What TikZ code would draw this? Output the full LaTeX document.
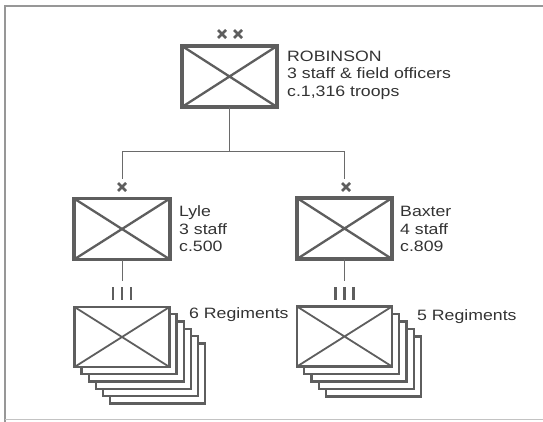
\documentclass[tikz,border=0pt]{standalone}
\usepackage{fontspec}
\setmainfont{Liberation Sans}[FakeStretch=1.18]
\definecolor{boxgray}{HTML}{5E5E5E}
\definecolor{linegray}{HTML}{6A6A6A}
\definecolor{txtgray}{HTML}{333333}
\begin{document}
\begin{tikzpicture}[x=1pt,y=-1pt,
  unitbox/.style={draw=boxgray,line width=3.2pt,fill=white,minimum width=#1,minimum height=61pt,inner sep=0pt,outer sep=0pt},
  regbox/.style={draw=boxgray,line width=2.3pt,fill=white,minimum width=95pt,minimum height=60pt,inner sep=0pt,outer sep=0pt},
  xline/.style={draw=boxgray,line width=2.3pt},
  conn/.style={draw=linegray,line width=1pt},
  sizemark/.style={draw=boxgray,line width=2.6pt},
  lbl/.style={text=txtgray,font=\fontsize{15}{17.5}\selectfont,align=left,anchor=west,inner sep=0pt}
]
\useasboundingbox (0,0) rectangle (543,422);
% frame
\draw[draw=linegray!70,line width=1.5pt] (5,422) -- (5,6) -- (543,6);
\draw[draw=linegray!40,line width=1pt] (5,419.5) -- (543,419.5);

% ROBINSON
\node[unitbox=95pt] (rob) at (229.5,76.5) {};
\draw[xline] (rob.north west) -- (rob.south east) (rob.north east) -- (rob.south west);
\node[lbl] (robt) at (287,75) {ROBINSON\\3 staff \& field officers\\c.1,316 troops};
\draw[sizemark] (218,30) -- (226,38) (218,38) -- (226,30);
\draw[sizemark] (234,30) -- (242,38) (234,38) -- (242,30);

% Lyle
\node[unitbox=96pt] (lyle) at (122,229) {};
\draw[xline] (lyle.north west) -- (lyle.south east) (lyle.north east) -- (lyle.south west);
\node[lbl] (lylet) at (179,229) {Lyle\\3 staff\\c.500};
\draw[sizemark] (118,183) -- (126,191) (118,191) -- (126,183);

% Baxter
\node[unitbox=95pt] (bax) at (344.5,228.5) {};
\draw[xline] (bax.north west) -- (bax.south east) (bax.north east) -- (bax.south west);
\node[lbl] (baxt) at (400,229) {Baxter\\4 staff\\c.809};
\draw[sizemark] (342,183) -- (350,191) (342,191) -- (350,183);

% connectors
\coordinate (j) at (229.5,152);
\coordinate (hl) at (122,152);
\coordinate (hr) at (344.5,152);
\coordinate (lx) at (122,179);
\coordinate (bx) at (344.5,179);
\coordinate (lb) at (122,281);
\coordinate (bb) at (344.5,281);
\draw[conn] (rob.south) -- (j);
\draw[conn] (hl) -- (hr);
\draw[conn] (hl) -- (lx);
\draw[conn] (hr) -- (bx);
\draw[conn] (lyle.south) -- (lb);
\draw[conn] (bax.south) -- (bb);

% III marks
\draw[sizemark] (113,287) -- (113,300) (122,287) -- (122,300) (131,287) -- (131,300);
\draw[sizemark] (335.5,287) -- (335.5,300) (344.5,287) -- (344.5,300) (353.5,287) -- (353.5,300);

% Lyle regiments (6)
\foreach \k in {5,4,3,2,1} {
  \node[regbox] (lr\k) at (122+\k*7.1,337+\k*7.3) {};
}
\node[regbox] (lreg) at (122,337) {};
\draw[xline,line width=1.8pt] (lreg.north west) -- (lreg.south east) (lreg.north east) -- (lreg.south west);
\node[lbl] (lregt) at (189,315) {6 Regiments};

% Baxter regiments (5)
\foreach \k in {4,3,2,1} {
  \node[regbox] (br\k) at (344.5+\k*7.3,336.5+\k*7.5) {};
}
\node[regbox] (breg) at (344.5,336.5) {};
\draw[xline,line width=1.8pt] (breg.north west) -- (breg.south east) (breg.north east) -- (breg.south west);
\node[lbl] (bregt) at (417,317) {5 Regiments};
\end{tikzpicture}
\end{document}
